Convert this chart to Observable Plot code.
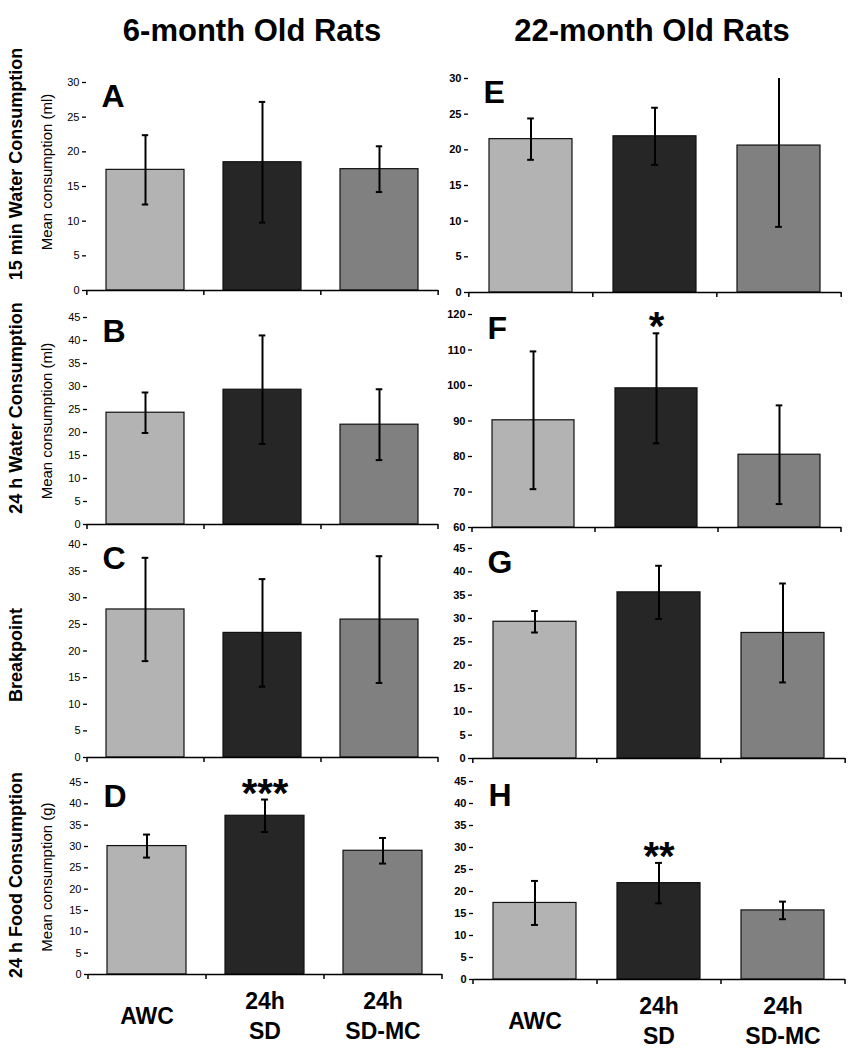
<!DOCTYPE html>
<html>
<head>
<meta charset="utf-8">
<script src="https://cdn.jsdelivr.net/npm/d3@7"></script>
<script src="https://cdn.jsdelivr.net/npm/@observablehq/plot@0.6"></script>
<style>
  html, body { margin: 0; padding: 0; background: #fff; }
  #root { position: relative; width: 854px; height: 1050px; overflow: hidden; font-family: "Liberation Sans", Arial, sans-serif; }
  #root svg { position: absolute; overflow: visible; }
  .lbl { position: absolute; white-space: nowrap; transform: translate(-50%, -50%); color: #000; font-weight: bold; }
  .rot { transform: translate(-50%, -50%) rotate(-90deg); }
</style>
</head>
<body>
<div id="root"></div>
<script>
// ---------- data ----------
const groups = ["AWC", "24h SD", "24h SD-MC"];
const groupLabels = ["AWC", "24h\nSD", "24h\nSD-MC"];
const groupColors = ["#b3b3b3", "#262626", "#808080"];

const columnTitles = ["6-month Old Rats", "22-month Old Rats"];
const rowTitles = ["15 min Water Consumption", "24 h Water Consumption", "Breakpoint", "24 h Food Consumption"];
const yLabels = ["Mean consumption (ml)", "Mean consumption (ml)", "", "Mean consumption (g)"];

// 6-month old rats
const meanA = [17.4, 18.5, 17.5];  const errA = [5.0, 8.7, 3.3];
const meanB = [24.3, 29.3, 21.7];  const errB = [4.4, 11.8, 7.7];
const meanC = [27.8, 23.4, 25.9];  const errC = [9.7, 10.1, 11.9];
const meanD = [30.1, 37.2, 29.0];  const errD = [2.7, 3.8, 3.0];
// 22-month old rats
const meanE = [21.5, 21.9, 20.6];  const errE = [2.9, 4.0, 11.4];
const meanF = [90.2, 99.2, 80.5];  const errF = [19.4, 15.5, 13.9];
const meanG = [29.3, 35.6, 26.9];  const errG = [2.3, 5.7, 10.6];
const meanH = [17.4, 21.9, 15.7];  const errH = [5.0, 4.6, 2.0];

const sigD = ["", "***", ""];
const sigF = ["", "*", ""];
const sigH = ["", "**", ""];
const sigNone = ["", "", ""];

const ticks30 = [0, 5, 10, 15, 20, 25, 30];
const ticks40 = [0, 5, 10, 15, 20, 25, 30, 35, 40];
const ticks45 = [0, 5, 10, 15, 20, 25, 30, 35, 40, 45];
const ticks120 = [60, 70, 80, 90, 100, 110, 120];

// ---------- panels ----------
const panels = [
  {key: "A", col: 0, row: 0, means: meanA, errs: errA, sig: sigNone, domain: [0, 30], ticks: ticks30},
  {key: "B", col: 0, row: 1, means: meanB, errs: errB, sig: sigNone, domain: [0, 45], ticks: ticks45},
  {key: "C", col: 0, row: 2, means: meanC, errs: errC, sig: sigNone, domain: [0, 40], ticks: ticks40},
  {key: "D", col: 0, row: 3, means: meanD, errs: errD, sig: sigD, domain: [0, 45], ticks: ticks45},
  {key: "E", col: 1, row: 0, means: meanE, errs: errE, sig: sigNone, domain: [0, 30], ticks: ticks30},
  {key: "F", col: 1, row: 1, means: meanF, errs: errF, sig: sigF, domain: [60, 120], ticks: ticks120},
  {key: "G", col: 1, row: 2, means: meanG, errs: errG, sig: sigNone, domain: [0, 45], ticks: ticks45},
  {key: "H", col: 1, row: 3, means: meanH, errs: errH, sig: sigH, domain: [0, 45], ticks: ticks45}
];

// ---------- layout (pixel geometry of each plot frame) ----------
const frames = {
  A: {left: 86, right: 438, top: 82, bottom: 290},
  B: {left: 87, right: 438, top: 317, bottom: 524},
  C: {left: 87, right: 438, top: 544, bottom: 757},
  D: {left: 88, right: 442, top: 782, bottom: 974},
  E: {left: 468, right: 841, top: 78, bottom: 292},
  F: {left: 472, right: 841, top: 314, bottom: 527},
  G: {left: 472, right: 845, top: 548, bottom: 758},
  H: {left: 473, right: 845, top: 781, bottom: 979}
};
const FONT = "'Liberation Sans', Arial, sans-serif";
const root = document.getElementById("root");

function addLabel(text, x, y, size, rotate, weight) {
  const d = document.createElement("div");
  d.className = "lbl" + (rotate ? " rot" : "");
  d.textContent = text;
  d.style.left = x + "px";
  d.style.top = y + "px";
  d.style.fontSize = size + "px";
  d.style.fontWeight = weight || "bold";
  root.appendChild(d);
}

for (const p of panels) {
  const g = frames[p.key];
  const svgLeft = p.col === 0 ? 0 : 420;
  const width = p.col === 0 ? 450 : 434;
  const bottomRow = p.row === 3;
  const mt = 16, mb = bottomRow ? 72 : 12;
  const ml = g.left - svgLeft;
  const mr = width - (g.right - svgLeft);
  const height = (g.bottom - g.top) + mt + mb;
  const step = (g.right - g.left) / groups.length;
  const pad = 0.33;
  const bw = step * (1 - pad);
  const capW = 7;
  const ymin = p.domain[0];
  const data = groups.map((k, i) => ({
    group: k, label: groupLabels[i], mean: p.means[i],
    lo: p.means[i] - p.errs[i], hi: p.means[i] + p.errs[i], sig: p.sig[i]
  }));
  const capInset = (bw - capW) / 2;
  const marks = [
    Plot.barY(data, {x: "group", y1: ymin, y2: "mean", fill: "group", stroke: "#111", strokeWidth: 1.2}),
    Plot.ruleX(data, {x: "group", y1: "lo", y2: "hi", stroke: "#000", strokeWidth: 2, clip: true}),
    Plot.tickY(data, {x: "group", y: "lo", insetLeft: capInset, insetRight: capInset, stroke: "#000", strokeWidth: 2, clip: true}),
    Plot.tickY(data, {x: "group", y: "hi", insetLeft: capInset, insetRight: capInset, stroke: "#000", strokeWidth: 2, clip: true}),
    Plot.ruleY([ymin], {stroke: "#000", strokeWidth: 1.5}),
    Plot.ruleX(groups, {x: d => d, y1: ymin, y2: ymin, insetBottom: -5, dx: -step / 2, stroke: "#000", strokeWidth: 1.5}),
    Plot.ruleX([groups[groups.length - 1]], {x: d => d, y1: ymin, y2: ymin, insetBottom: -5, dx: step / 2, stroke: "#000", strokeWidth: 1.5}),
    Plot.axisY({ticks: p.ticks, tickSize: 4, tickPadding: 3, line: true, label: null,
      fontWeight: p.col === 1 ? "bold" : "normal", stroke: "#000", strokeWidth: 1.3, fill: "#000"}),
    Plot.text([p.key], {frameAnchor: "top-left", dx: 15, dy: 2, lineAnchor: "top", fontSize: 32, fontWeight: "bold", fill: "#000"}),
    Plot.text(data.filter(d => d.sig), {x: "group", y: "hi", text: "sig", lineAnchor: "bottom", dy: 7, fontSize: 40, fontWeight: "bold", fill: "#000"})
  ];
  if (bottomRow) {
    marks.push(Plot.text(data, {x: "group", text: "label", frameAnchor: "bottom", lineAnchor: "middle", dy: 40,
      fontSize: 23, fontWeight: "bold", lineHeight: 1.3, fill: "#000"}));
  }
  const svg = Plot.plot({
    width, height,
    marginLeft: ml, marginRight: mr, marginTop: mt, marginBottom: mb,
    style: {fontFamily: FONT, fontSize: "11px", background: "transparent", color: "#000", overflow: "visible"},
    x: {domain: groups, axis: null, paddingInner: pad, paddingOuter: pad / 2},
    y: {domain: p.domain, axis: null},
    color: {domain: groups, range: groupColors},
    marks
  });
  svg.style.left = svgLeft + "px";
  svg.style.top = (g.top - mt) + "px";
  root.appendChild(svg);
}

// titles and side labels
addLabel(columnTitles[0], 252, 31, 31, false);
addLabel(columnTitles[1], 652, 31, 31, false);
const rowCenters = [164, 408, 655, 875];
rowTitles.forEach((t, i) => addLabel(t, 16, rowCenters[i], 18, true));
const yLabCenters = [172, 421, 0, 877];
yLabels.forEach((t, i) => { if (t) addLabel(t, 46, yLabCenters[i], 15, true, "normal"); });
</script>
</body>
</html>
